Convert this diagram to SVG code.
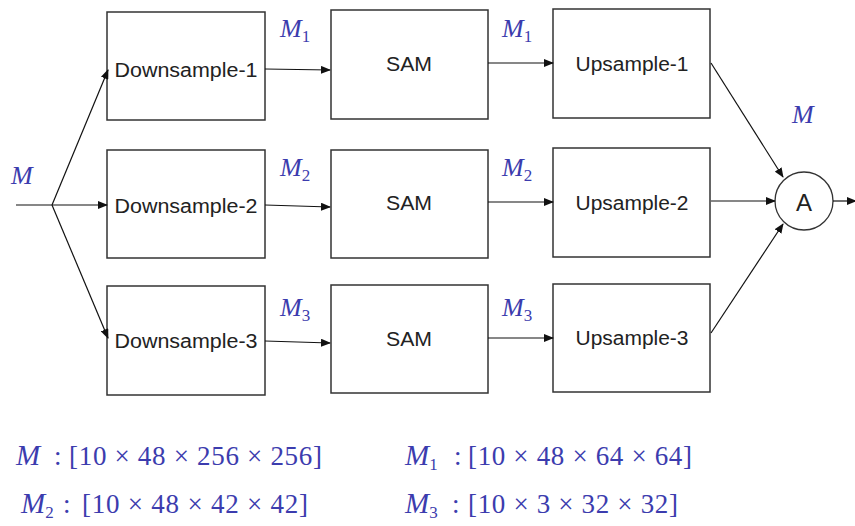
<svg xmlns="http://www.w3.org/2000/svg" width="855" height="526" viewBox="0 0 855 526">
<defs>
<marker id="ah" markerWidth="10" markerHeight="8" refX="9" refY="4" orient="auto" markerUnits="userSpaceOnUse">
<path d="M0,0 L10,4 L0,8 Z" fill="#111"/>
</marker>
<style>
.box{fill:#fff;stroke:#333;stroke-width:1.5}
.lbl{font-family:"Liberation Sans",Arial,sans-serif;font-size:20px;fill:#222;text-anchor:middle;dominant-baseline:central}
.conn{stroke:#111;stroke-width:1.2;fill:none}
.m{font-family:"Liberation Serif","Times New Roman",serif;font-size:26px;fill:#3c3cae}
.mi{font-style:italic}
.sub{font-size:17px}
.f{font-family:"Liberation Serif","Times New Roman",serif;font-size:27px;fill:#3c3cae}
.fm{font-size:29px;font-style:italic}
</style>
</defs>
<rect width="855" height="526" fill="#fff"/>

<g id="down1"><rect class="box" x="107" y="12" width="158" height="108"/><text class="lbl" x="186" y="70" textLength="143" lengthAdjust="spacingAndGlyphs">Downsample-1</text></g>
<g id="down2"><rect class="box" x="107" y="150" width="158" height="108"/><text class="lbl" x="186" y="206" textLength="143" lengthAdjust="spacingAndGlyphs">Downsample-2</text></g>
<g id="down3"><rect class="box" x="107" y="286" width="158" height="109"/><text class="lbl" x="186" y="341" textLength="143" lengthAdjust="spacingAndGlyphs">Downsample-3</text></g>

<g id="sam1"><rect class="box" x="331" y="10" width="157" height="109"/><text class="lbl" x="409" y="64" textLength="46" lengthAdjust="spacingAndGlyphs">SAM</text></g>
<g id="sam2"><rect class="box" x="331" y="150" width="157" height="108"/><text class="lbl" x="409" y="203" textLength="46" lengthAdjust="spacingAndGlyphs">SAM</text></g>
<g id="sam3"><rect class="box" x="331" y="285" width="157" height="108"/><text class="lbl" x="409" y="339" textLength="46" lengthAdjust="spacingAndGlyphs">SAM</text></g>

<g id="up1"><rect class="box" x="553" y="9" width="157" height="109"/><text class="lbl" x="632" y="64" textLength="113" lengthAdjust="spacingAndGlyphs">Upsample-1</text></g>
<g id="up2"><rect class="box" x="553" y="148" width="157" height="109"/><text class="lbl" x="632" y="203" textLength="113" lengthAdjust="spacingAndGlyphs">Upsample-2</text></g>
<g id="up3"><rect class="box" x="553" y="284" width="157" height="108"/><text class="lbl" x="632" y="338" textLength="113" lengthAdjust="spacingAndGlyphs">Upsample-3</text></g>

<g id="aggr"><circle cx="804" cy="201" r="29" fill="#fff" stroke="#333" stroke-width="1.3"/><text class="lbl" x="804" y="202" style="font-size:24px">A</text></g>

<g id="connectors">
<line class="conn" x1="16" y1="205" x2="52" y2="205"/>
<line class="conn" x1="52" y1="205" x2="107" y2="205" marker-end="url(#ah)"/>
<line class="conn" x1="52" y1="205" x2="108" y2="70" marker-end="url(#ah)"/>
<line class="conn" x1="52" y1="205" x2="108" y2="338" marker-end="url(#ah)"/>
<line class="conn" x1="265" y1="69" x2="330" y2="70" marker-end="url(#ah)"/>
<line class="conn" x1="265" y1="205" x2="330" y2="207" marker-end="url(#ah)"/>
<line class="conn" x1="265" y1="341" x2="330" y2="343" marker-end="url(#ah)"/>
<line class="conn" x1="488" y1="63" x2="553" y2="63" marker-end="url(#ah)"/>
<line class="conn" x1="488" y1="202" x2="553" y2="202" marker-end="url(#ah)"/>
<line class="conn" x1="488" y1="338" x2="553" y2="338" marker-end="url(#ah)"/>
<line class="conn" x1="711" y1="63" x2="783" y2="177" marker-end="url(#ah)"/>
<line class="conn" x1="711" y1="201" x2="775" y2="201" marker-end="url(#ah)"/>
<line class="conn" x1="711" y1="333" x2="783" y2="224" marker-end="url(#ah)"/>
<line class="conn" x1="833" y1="201" x2="856" y2="201" marker-end="url(#ah)"/>
</g>

<g id="labels">
<text class="m" x="11" y="184"><tspan class="mi">M</tspan></text>
<text class="m" x="792" y="123"><tspan class="mi">M</tspan></text>
<text class="m" x="280" y="37"><tspan class="mi">M</tspan><tspan class="sub" dy="5">1</tspan></text>
<text class="m" x="502" y="37"><tspan class="mi">M</tspan><tspan class="sub" dy="5">1</tspan></text>
<text class="m" x="280" y="176"><tspan class="mi">M</tspan><tspan class="sub" dy="5">2</tspan></text>
<text class="m" x="502" y="176"><tspan class="mi">M</tspan><tspan class="sub" dy="5">2</tspan></text>
<text class="m" x="280" y="316"><tspan class="mi">M</tspan><tspan class="sub" dy="5">3</tspan></text>
<text class="m" x="502" y="316"><tspan class="mi">M</tspan><tspan class="sub" dy="5">3</tspan></text>
</g>

<g id="formulas">
<text class="f" x="16" y="465"><tspan class="fm">M</tspan></text>
<text class="f" x="54" y="465">:</text>
<text class="f" x="69" y="465" textLength="253" lengthAdjust="spacing">[10 × 48 × 256 × 256]</text>

<text class="f" x="21" y="513"><tspan class="fm">M</tspan><tspan class="sub" dy="5">2</tspan></text>
<text class="f" x="63" y="513">:</text>
<text class="f" x="82" y="513" textLength="226" lengthAdjust="spacing">[10 × 48 × 42 × 42]</text>

<text class="f" x="405" y="465"><tspan class="fm">M</tspan><tspan class="sub" dy="5">1</tspan></text>
<text class="f" x="454" y="465">:</text>
<text class="f" x="468" y="465" textLength="224" lengthAdjust="spacing">[10 × 48 × 64 × 64]</text>

<text class="f" x="405" y="513"><tspan class="fm">M</tspan><tspan class="sub" dy="5">3</tspan></text>
<text class="f" x="452" y="513">:</text>
<text class="f" x="468" y="513" textLength="210" lengthAdjust="spacing">[10 × 3 × 32 × 32]</text>
</g>
</svg>
